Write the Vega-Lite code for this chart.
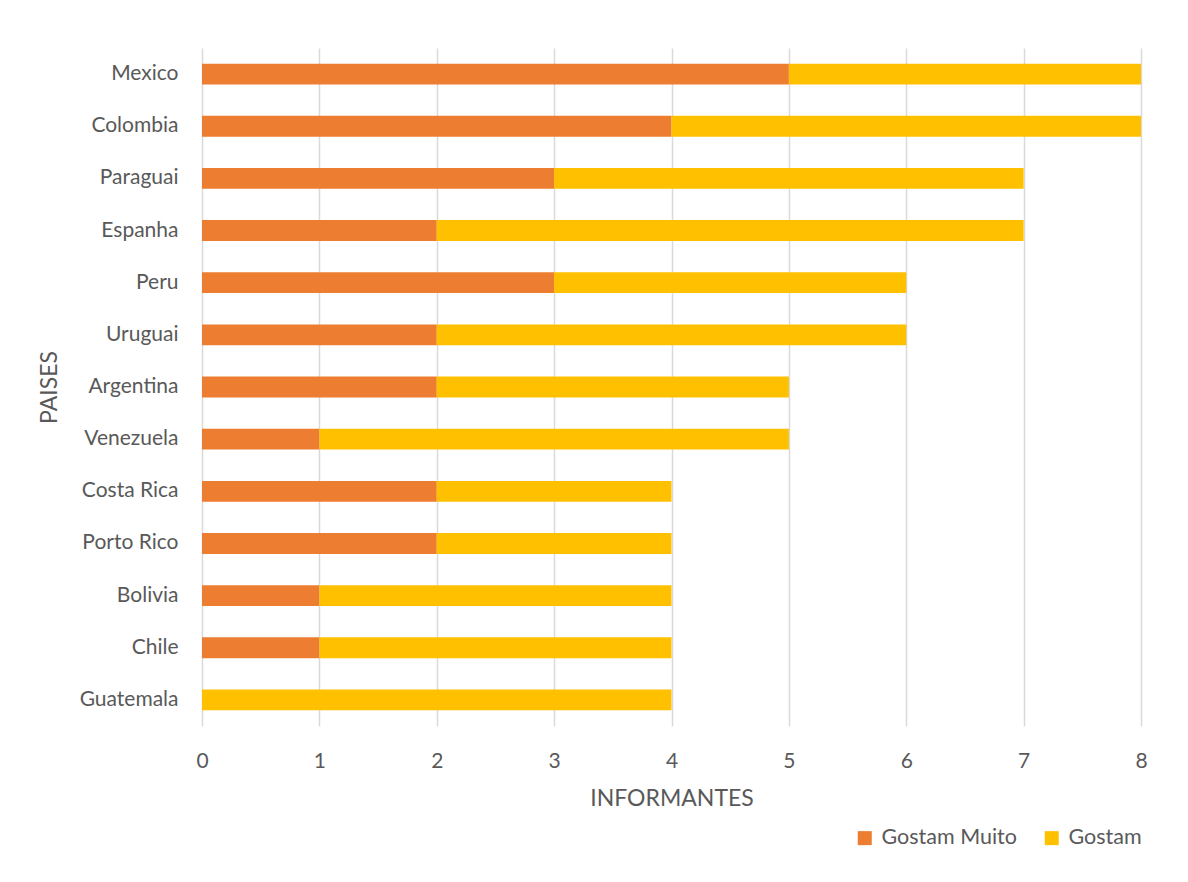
{
  "$schema": "https://vega.github.io/schema/vega-lite/v6.json",
  "width": 939,
  "height": 678,
  "autosize": {"type": "none"},
  "padding": {"left": 202, "top": 48, "right": 47, "bottom": 156},
  "background": "white",
  "data": {
    "values": [
      {"pais": "Mexico", "grupo": "Gostam Muito", "n": 5, "ord": 1},
      {"pais": "Mexico", "grupo": "Gostam", "n": 3, "ord": 2},
      {"pais": "Colombia", "grupo": "Gostam Muito", "n": 4, "ord": 1},
      {"pais": "Colombia", "grupo": "Gostam", "n": 4, "ord": 2},
      {"pais": "Paraguai", "grupo": "Gostam Muito", "n": 3, "ord": 1},
      {"pais": "Paraguai", "grupo": "Gostam", "n": 4, "ord": 2},
      {"pais": "Espanha", "grupo": "Gostam Muito", "n": 2, "ord": 1},
      {"pais": "Espanha", "grupo": "Gostam", "n": 5, "ord": 2},
      {"pais": "Peru", "grupo": "Gostam Muito", "n": 3, "ord": 1},
      {"pais": "Peru", "grupo": "Gostam", "n": 3, "ord": 2},
      {"pais": "Uruguai", "grupo": "Gostam Muito", "n": 2, "ord": 1},
      {"pais": "Uruguai", "grupo": "Gostam", "n": 4, "ord": 2},
      {"pais": "Argentina", "grupo": "Gostam Muito", "n": 2, "ord": 1},
      {"pais": "Argentina", "grupo": "Gostam", "n": 3, "ord": 2},
      {"pais": "Venezuela", "grupo": "Gostam Muito", "n": 1, "ord": 1},
      {"pais": "Venezuela", "grupo": "Gostam", "n": 4, "ord": 2},
      {"pais": "Costa Rica", "grupo": "Gostam Muito", "n": 2, "ord": 1},
      {"pais": "Costa Rica", "grupo": "Gostam", "n": 2, "ord": 2},
      {"pais": "Porto Rico", "grupo": "Gostam Muito", "n": 2, "ord": 1},
      {"pais": "Porto Rico", "grupo": "Gostam", "n": 2, "ord": 2},
      {"pais": "Bolivia", "grupo": "Gostam Muito", "n": 1, "ord": 1},
      {"pais": "Bolivia", "grupo": "Gostam", "n": 3, "ord": 2},
      {"pais": "Chile", "grupo": "Gostam Muito", "n": 1, "ord": 1},
      {"pais": "Chile", "grupo": "Gostam", "n": 3, "ord": 2},
      {"pais": "Guatemala", "grupo": "Gostam Muito", "n": 0, "ord": 1},
      {"pais": "Guatemala", "grupo": "Gostam", "n": 4, "ord": 2}
    ]
  },
  "mark": {"type": "bar"},
  "encoding": {
    "y": {
      "field": "pais",
      "type": "nominal",
      "sort": ["Mexico", "Colombia", "Paraguai", "Espanha", "Peru", "Uruguai", "Argentina", "Venezuela", "Costa Rica", "Porto Rico", "Bolivia", "Chile", "Guatemala"],
      "scale": {"paddingInner": 0.6, "paddingOuter": 0.3},
      "axis": {
        "title": "PAISES",
        "titleFontSize": 23,
        "titleFontWeight": "normal",
        "titleColor": "#595959",
        "titleFont": "Lato",
        "titlePadding": 18,
        "labelFont": "Lato",
        "labelFontSize": 21,
        "labelColor": "#595959",
        "labelPadding": 24,
        "ticks": false,
        "domain": false,
        "grid": false
      }
    },
    "x": {
      "field": "n",
      "type": "quantitative",
      "stack": "zero",
      "scale": {"domain": [0, 8], "nice": false},
      "axis": {
        "title": "INFORMANTES",
        "titleFontSize": 23,
        "titleFontWeight": "normal",
        "titleColor": "#595959",
        "titleFont": "Lato",
        "titlePadding": 16,
        "labelFont": "Lato",
        "labelFontSize": 21,
        "labelColor": "#595959",
        "labelPadding": 24,
        "values": [0, 1, 2, 3, 4, 5, 6, 7, 8],
        "labelFlush": false,
        "labelOverlap": false,
        "ticks": false,
        "domain": false,
        "grid": true,
        "gridColor": "#D9D9D9",
        "gridWidth": 1.5
      }
    },
    "color": {
      "field": "grupo",
      "type": "nominal",
      "scale": {"domain": ["Gostam Muito", "Gostam"], "range": ["#ED7D31", "#FFC000"]},
      "legend": {
        "title": null,
        "orient": "none",
        "legendX": 652,
        "legendY": 779,
        "direction": "horizontal",
        "symbolType": "square",
        "symbolSize": 196,
        "symbolStrokeWidth": 0,
        "symbolOpacity": 1,
        "labelFont": "Lato",
        "labelFontSize": 21.5,
        "labelColor": "#595959",
        "labelOffset": 6,
        "columnPadding": 24
      }
    },
    "order": {"field": "ord", "type": "quantitative"}
  },
  "config": {
    "view": {"stroke": null}
  }
}
